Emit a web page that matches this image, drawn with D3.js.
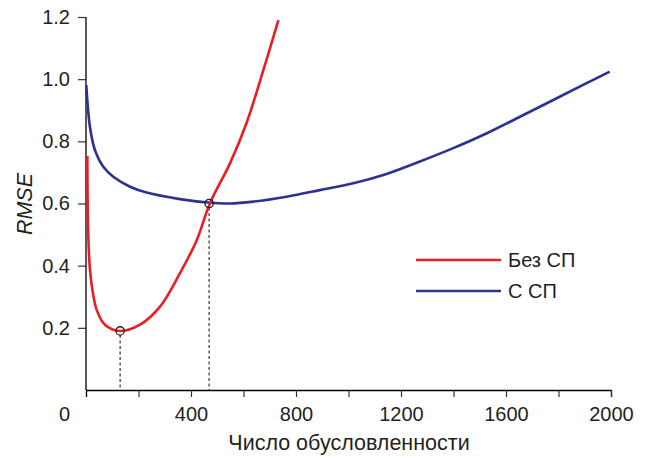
<!DOCTYPE html>
<html>
<head>
<meta charset="utf-8">
<script src="https://cdn.jsdelivr.net/npm/d3@7"></script>
<style>
  body { margin: 0; background: #fff; }
  svg { font-family: "Liberation Sans", Arial, sans-serif; }
</style>
</head>
<body>
<div id="chart"></div>
<script>
var width = 649;
var height = 458;

// data
var seriesNames = ['Без СП', 'С СП'];
var seriesColors = ['#ed1c24', '#2e3192'];

var bezSp = [
  [5, 0.753], [8, 0.52], [14, 0.40], [24, 0.325], [41, 0.257], [72, 0.21], [130, 0.19],
  [206, 0.21], [282, 0.268], [358, 0.376], [421, 0.48], [472, 0.60],
  [549, 0.73], [612, 0.86], [676, 1.03], [733, 1.19]
];
var sSp = [
  [1, 0.981], [15, 0.847], [34, 0.772], [66, 0.718], [104, 0.686], [168, 0.654],
  [231, 0.635], [358, 0.614], [466, 0.603], [549, 0.600], [637, 0.606],
  [764, 0.622], [891, 0.643], [1018, 0.665], [1145, 0.695], [1272, 0.735],
  [1399, 0.778], [1527, 0.826], [1653, 0.879], [1780, 0.933], [1907, 0.987],
  [1995, 1.024]
];
var markers = [[130, 0.19], [469, 0.60]];

var xTicks = [0, 200, 400, 600, 800, 1000, 1200, 1400, 1600, 1800, 2000];
var xLabels = [0, 400, 800, 1200, 1600, 2000];
var yTicks = [0.2, 0.4, 0.6, 0.8, 1.0, 1.2];

var x = d3.scaleLinear().domain([0, 2000]).range([86, 611]);
var y = d3.scaleLinear().domain([0, 1.2]).range([390, 17]);

var svg = d3.select('#chart').append('svg')
  .attr('width', width).attr('height', height);

// x axis
var xAxis = svg.append('g')
  .attr('transform', 'translate(0,' + y(0) + ')')
  .call(d3.axisBottom(x)
    .tickValues(xTicks)
    .tickSize(7)
    .tickPadding(10)
    .tickFormat(function(d){ return xLabels.indexOf(d) >= 0 ? d : ''; }));
xAxis.select('.domain').attr('stroke', '#000').attr('stroke-width', 1.3);
xAxis.selectAll('.tick line').attr('stroke', '#333').attr('stroke-width', 1.2);
xAxis.selectAll('.tick text').attr('font-size', 20).attr('fill', '#231f20');
xAxis.selectAll('.tick').filter(function(d){ return d === 0; })
  .each(function(){
    d3.select(this).select('line').remove();
    d3.select(this).select('text').attr('x', -22);
  });

// y axis
var yAxis = svg.append('g')
  .attr('transform', 'translate(' + x(0) + ',0)')
  .call(d3.axisLeft(y)
    .tickValues(yTicks)
    .tickSize(8)
    .tickPadding(8)
    .tickFormat(d3.format('.1f')));
yAxis.select('.domain').attr('stroke', '#000').attr('stroke-width', 1.3)
  .attr('d', 'M0,' + y(1.2) + 'V' + y(0));
yAxis.selectAll('.tick line').attr('stroke', '#333').attr('stroke-width', 1.2);
yAxis.selectAll('.tick text').attr('font-size', 20).attr('fill', '#231f20');

// axis titles
svg.append('text')
  .attr('x', 349).attr('y', 450)
  .attr('text-anchor', 'middle')
  .attr('font-size', 21.5).attr('fill', '#231f20')
  .text('Число обусловленности');

svg.append('text')
  .attr('transform', 'translate(32,' + 204 + ') rotate(-90)')
  .attr('text-anchor', 'middle')
  .attr('font-size', 21.5).attr('font-style', 'italic').attr('fill', '#231f20')
  .text('RMSE');

// dashed drop lines
svg.selectAll('line.drop')
  .data(markers)
  .enter()
  .append('line')
  .attr('class', 'drop')
  .attr('x1', function(d){ return x(d[0]); })
  .attr('x2', function(d){ return x(d[0]); })
  .attr('y1', function(d){ return y(d[1]) + 4; })
  .attr('y2', y(0))
  .attr('stroke', '#333')
  .attr('stroke-width', 1.2)
  .attr('stroke-dasharray', '3,2.5');

var line = d3.line()
  .x(function(d){ return x(d[0]); })
  .y(function(d){ return y(d[1]); })
  .curve(d3.curveCatmullRom.alpha(0.5));

svg.append('path')
  .datum(sSp)
  .attr('d', line)
  .attr('fill', 'none')
  .attr('stroke', seriesColors[1])
  .attr('stroke-width', 2.6);

svg.append('path')
  .datum(bezSp)
  .attr('d', line)
  .attr('fill', 'none')
  .attr('stroke', seriesColors[0])
  .attr('stroke-width', 2.6);

// markers
svg.selectAll('circle')
  .data(markers)
  .enter()
  .append('circle')
  .attr('cx', function(d){ return x(d[0]); })
  .attr('cy', function(d){ return y(d[1]); })
  .attr('r', 4.2)
  .attr('fill', 'none')
  .attr('stroke', '#231f20')
  .attr('stroke-width', 1.3);

// legend
var legend = svg.selectAll('g.legend')
  .data(seriesNames)
  .enter()
  .append('g')
  .attr('class', 'legend')
  .attr('transform', function(d, i){ return 'translate(416,' + (260 + i * 31) + ')'; });

legend.append('line')
  .attr('x1', 0).attr('x2', 85)
  .attr('y1', 0).attr('y2', 0)
  .attr('stroke', function(d, i){ return seriesColors[i]; })
  .attr('stroke-width', 2.6);

legend.append('text')
  .attr('x', 92).attr('y', 7)
  .attr('font-size', 20).attr('fill', '#231f20')
  .text(function(d){ return d; });
</script>
</body>
</html>
